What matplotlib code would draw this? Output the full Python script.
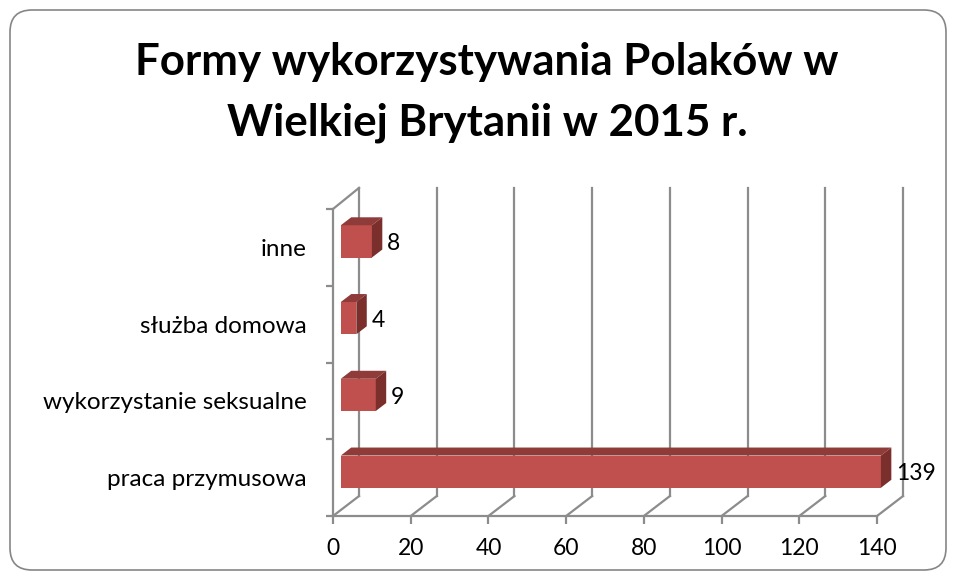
import matplotlib.pyplot as plt
from matplotlib.patches import Polygon, FancyBboxPatch
from matplotlib.transforms import IdentityTransform

categories = ["praca przymusowa", "wykorzystanie seksualne", "służba domowa", "inne"]
values = [139, 9, 4, 8]
x_ticks = [0, 20, 40, 60, 80, 100, 120, 140]
title = "Formy wykorzystywania Polaków w\nWielkiej Brytanii w 2015 r."

FRONT = "#C0504D"
TOP = "#8E3B39"
SIDE = "#7A2F2D"
GRID = "#8C8C8C"

plt.rcParams["font.family"] = ["Lato", "DejaVu Sans"]

# oblique depth of the 3d box, in data units
DX, DY = 6.7, 0.26
D0, D1 = 0.3, 0.7      # bar depth range
H = 0.21               # half bar height

fig = plt.figure(figsize=(9.56, 5.8), dpi=100)
ax = fig.add_axes([333 / 956, 64 / 580, 544 / 956, 307 / 580])
ax.set_xlim(0, 140)
ax.set_ylim(-0.5, 3.5)

# back wall gridlines and floor lines
for v in x_ticks:
    ax.plot([v + DX, v + DX], [-0.5 + DY, 3.5 + 0.275], color=GRID, lw=1.6,
            clip_on=False, zorder=1)
    ax.plot([v, v + DX], [-0.5, -0.5 + DY], color=GRID, lw=1.6,
            clip_on=False, zorder=1)
ax.plot([0, DX], [3.5, 3.5 + 0.275], color=GRID, lw=1.6, clip_on=False, zorder=1)

# 3d bars
for i, v in enumerate(values):
    x0 = D0 * DX
    x1 = v + D0 * DX
    yb = i - H + D0 * DY
    yt = i + H + D0 * DY
    ddx = (D1 - D0) * DX
    ddy = (D1 - D0) * DY
    ax.add_patch(Polygon([(x0, yb), (x1, yb), (x1, yt), (x0, yt)],
                         closed=True, fc=FRONT, ec="none", zorder=3, clip_on=False))
    ax.add_patch(Polygon([(x0, yt), (x1, yt), (x1 + ddx, yt + ddy), (x0 + ddx, yt + ddy)],
                         closed=True, fc=TOP, ec="none", zorder=3, clip_on=False))
    ax.add_patch(Polygon([(x1, yb), (x1, yt), (x1 + ddx, yt + ddy), (x1 + ddx, yb + ddy)],
                         closed=True, fc=SIDE, ec="none", zorder=3, clip_on=False))
    ax.text(v + D1 * DX + 1.2, i + D0 * DY - 0.03, str(v), ha="left", va="center",
            fontsize=16.5, zorder=4)

for s in ["top", "right"]:
    ax.spines[s].set_visible(False)
for s in ["left", "bottom"]:
    ax.spines[s].set_color(GRID)
    ax.spines[s].set_linewidth(1.6)
    ax.spines[s].set_zorder(2)

ax.set_xticks(x_ticks)
ax.tick_params(axis="x", length=5.8, width=1.6, color=GRID, labelsize=16.5, pad=10)
ax.set_yticks([-0.5, 0.5, 1.5, 2.5, 3.5])
ax.set_yticklabels([])
ax.tick_params(axis="y", which="major", length=5, width=1.6, color=GRID)
ax.set_yticks(range(len(categories)), minor=True)
ax.set_yticklabels(categories, minor=True)
ax.tick_params(axis="y", which="minor", length=0, labelsize=17.5, pad=19)
ax.set_facecolor("none")

fig.text(487 / 956, 1 - 42 / 580, title, ha="center", va="top",
         fontsize=31.6, fontweight="bold", linespacing=1.62)

border = FancyBboxPatch((10, 10), 936, 560, boxstyle="round,pad=0,rounding_size=22",
                        fc="none", ec="#868686", lw=1.2, transform=IdentityTransform())
fig.patches.append(border)

fig.savefig("out.png", dpi=100)
